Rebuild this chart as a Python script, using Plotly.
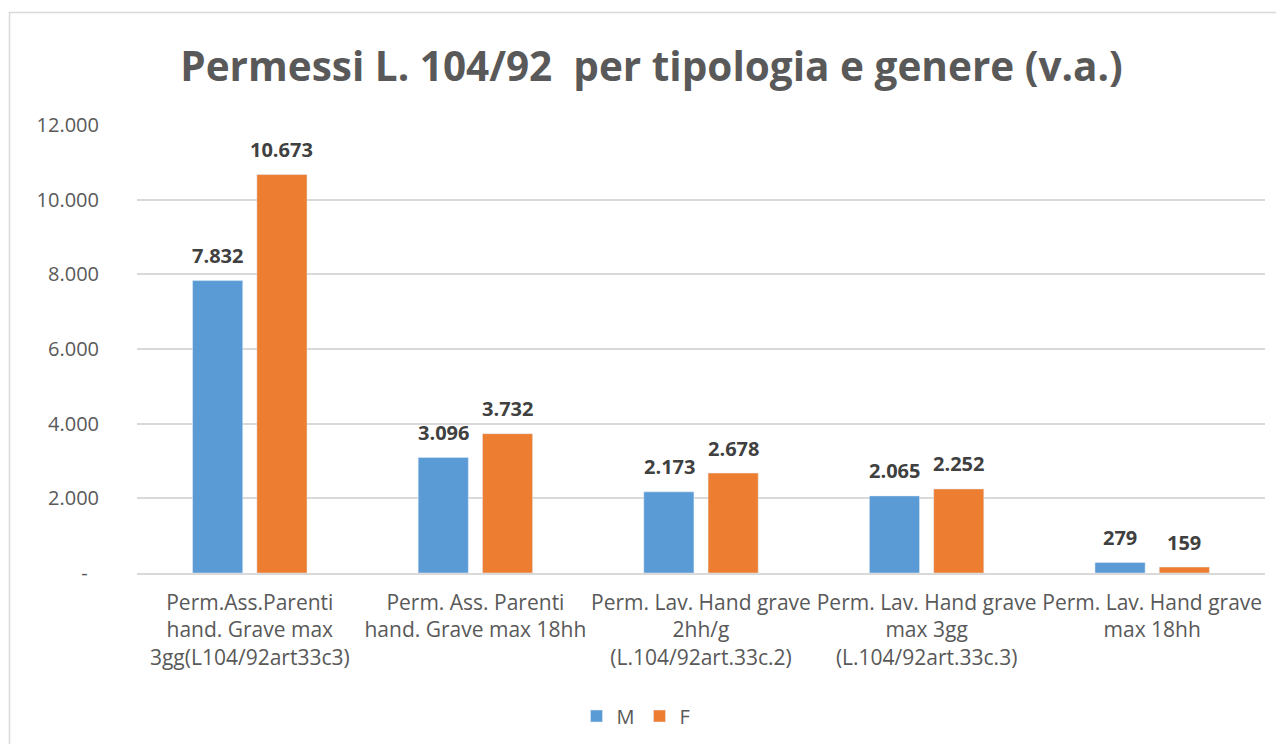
import plotly.graph_objects as go

categories = [
    "Perm.Ass.Parenti<br>hand. Grave max<br>3gg(L104/92art33c3)",
    "Perm. Ass. Parenti<br>hand. Grave max 18hh",
    "Perm. Lav. Hand grave<br>2hh/g<br>(L.104/92art.33c.2)",
    "Perm. Lav. Hand grave<br>max 3gg<br>(L.104/92art.33c.3)",
    "Perm. Lav. Hand grave<br>max 18hh",
]
m_values = [7832, 3096, 2173, 2065, 279]
f_values = [10673, 3732, 2678, 2252, 159]
y_tickvals = [0, 2000, 4000, 6000, 8000, 10000, 12000]
y_ticktext = ["-<span style='color:rgba(255,255,255,0)'>0</span>",
              "2.000", "4.000", "6.000", "8.000", "10.000", "12.000"]

def fmt(v):
    return f"{v:,}".replace(",", ".")

# page body has an 8px margin: figure coordinates = reference coordinates - 8
OFF = 8
W, H = 1284 - OFF, 744 - OFF
ML, MT = 137 - OFF, 125 - OFF
MR = W - (1265 - OFF)
MB = H - (573 - OFF)
FONT = "Open Sans"
GRAY = "#595959"

fig = go.Figure()
fig.add_trace(go.Bar(name="M", x=categories, y=m_values, marker_color="#5B9BD5"))
fig.add_trace(go.Bar(name="F", x=categories, y=f_values, marker_color="#ED7D31"))

annotations = []
for vals, shift in ((m_values, -32), (f_values, 32)):
    for c, v in zip(categories, vals):
        annotations.append(dict(
            x=c, y=v, xref="x", yref="y", text=fmt(v), showarrow=False,
            xshift=shift, yshift=25, yanchor="middle",
            font=dict(family=FONT, size=20, color="#404040", weight="bold"),
        ))

pw = W - ML - MR
ph = H - MT - MB
fig.add_shape(type="rect", xref="paper", yref="paper",
              x0=(9.5 - OFF - ML) / pw, x1=(W + 20 - ML) / pw,
              y0=(MB - H - 30) / ph, y1=(H - (12.5 - OFF) - MB) / ph,
              line=dict(color="#D9D9D9", width=1.5), fillcolor="rgba(0,0,0,0)", layer="below")

fig.update_layout(
    width=W, height=H,
    margin=dict(l=ML, r=MR, t=MT, b=MB),
    paper_bgcolor="white", plot_bgcolor="white",
    barmode="group", bargap=0.43, bargroupgap=0.22,
    title=dict(text="Permessi L. 104/92  per tipologia e genere (v.a.)",
               x=(651.5 - OFF) / W, xref="container", xanchor="center",
               y=1 - (67 - OFF) / H, yanchor="middle",
               font=dict(family=FONT, size=40.5, color=GRAY, weight="bold")),
    font=dict(family=FONT, color=GRAY),
    legend=dict(orientation="h", x=(636 - OFF) / W, xanchor="center", xref="container",
                y=1 - (716 - OFF) / H, yref="container", yanchor="middle",
                font=dict(family=FONT, size=20, color=GRAY)),
    annotations=annotations,
    showlegend=True,
)
fig.update_xaxes(showgrid=False, showline=True, linecolor="#D9D9D9", linewidth=1.5,
                 ticks="", tickfont=dict(family=FONT, size=21, color=GRAY),
                 ticklabelstandoff=10)
fig.update_yaxes(range=[0, 12000], tickvals=y_tickvals, ticktext=y_ticktext,
                 showgrid=True, gridcolor="#D9D9D9", gridwidth=1.5, zeroline=False,
                 showline=False, ticks="", ticklabelstandoff=37,
                 tickfont=dict(family=FONT, size=20, color=GRAY))

fig.write_html("out.html")
